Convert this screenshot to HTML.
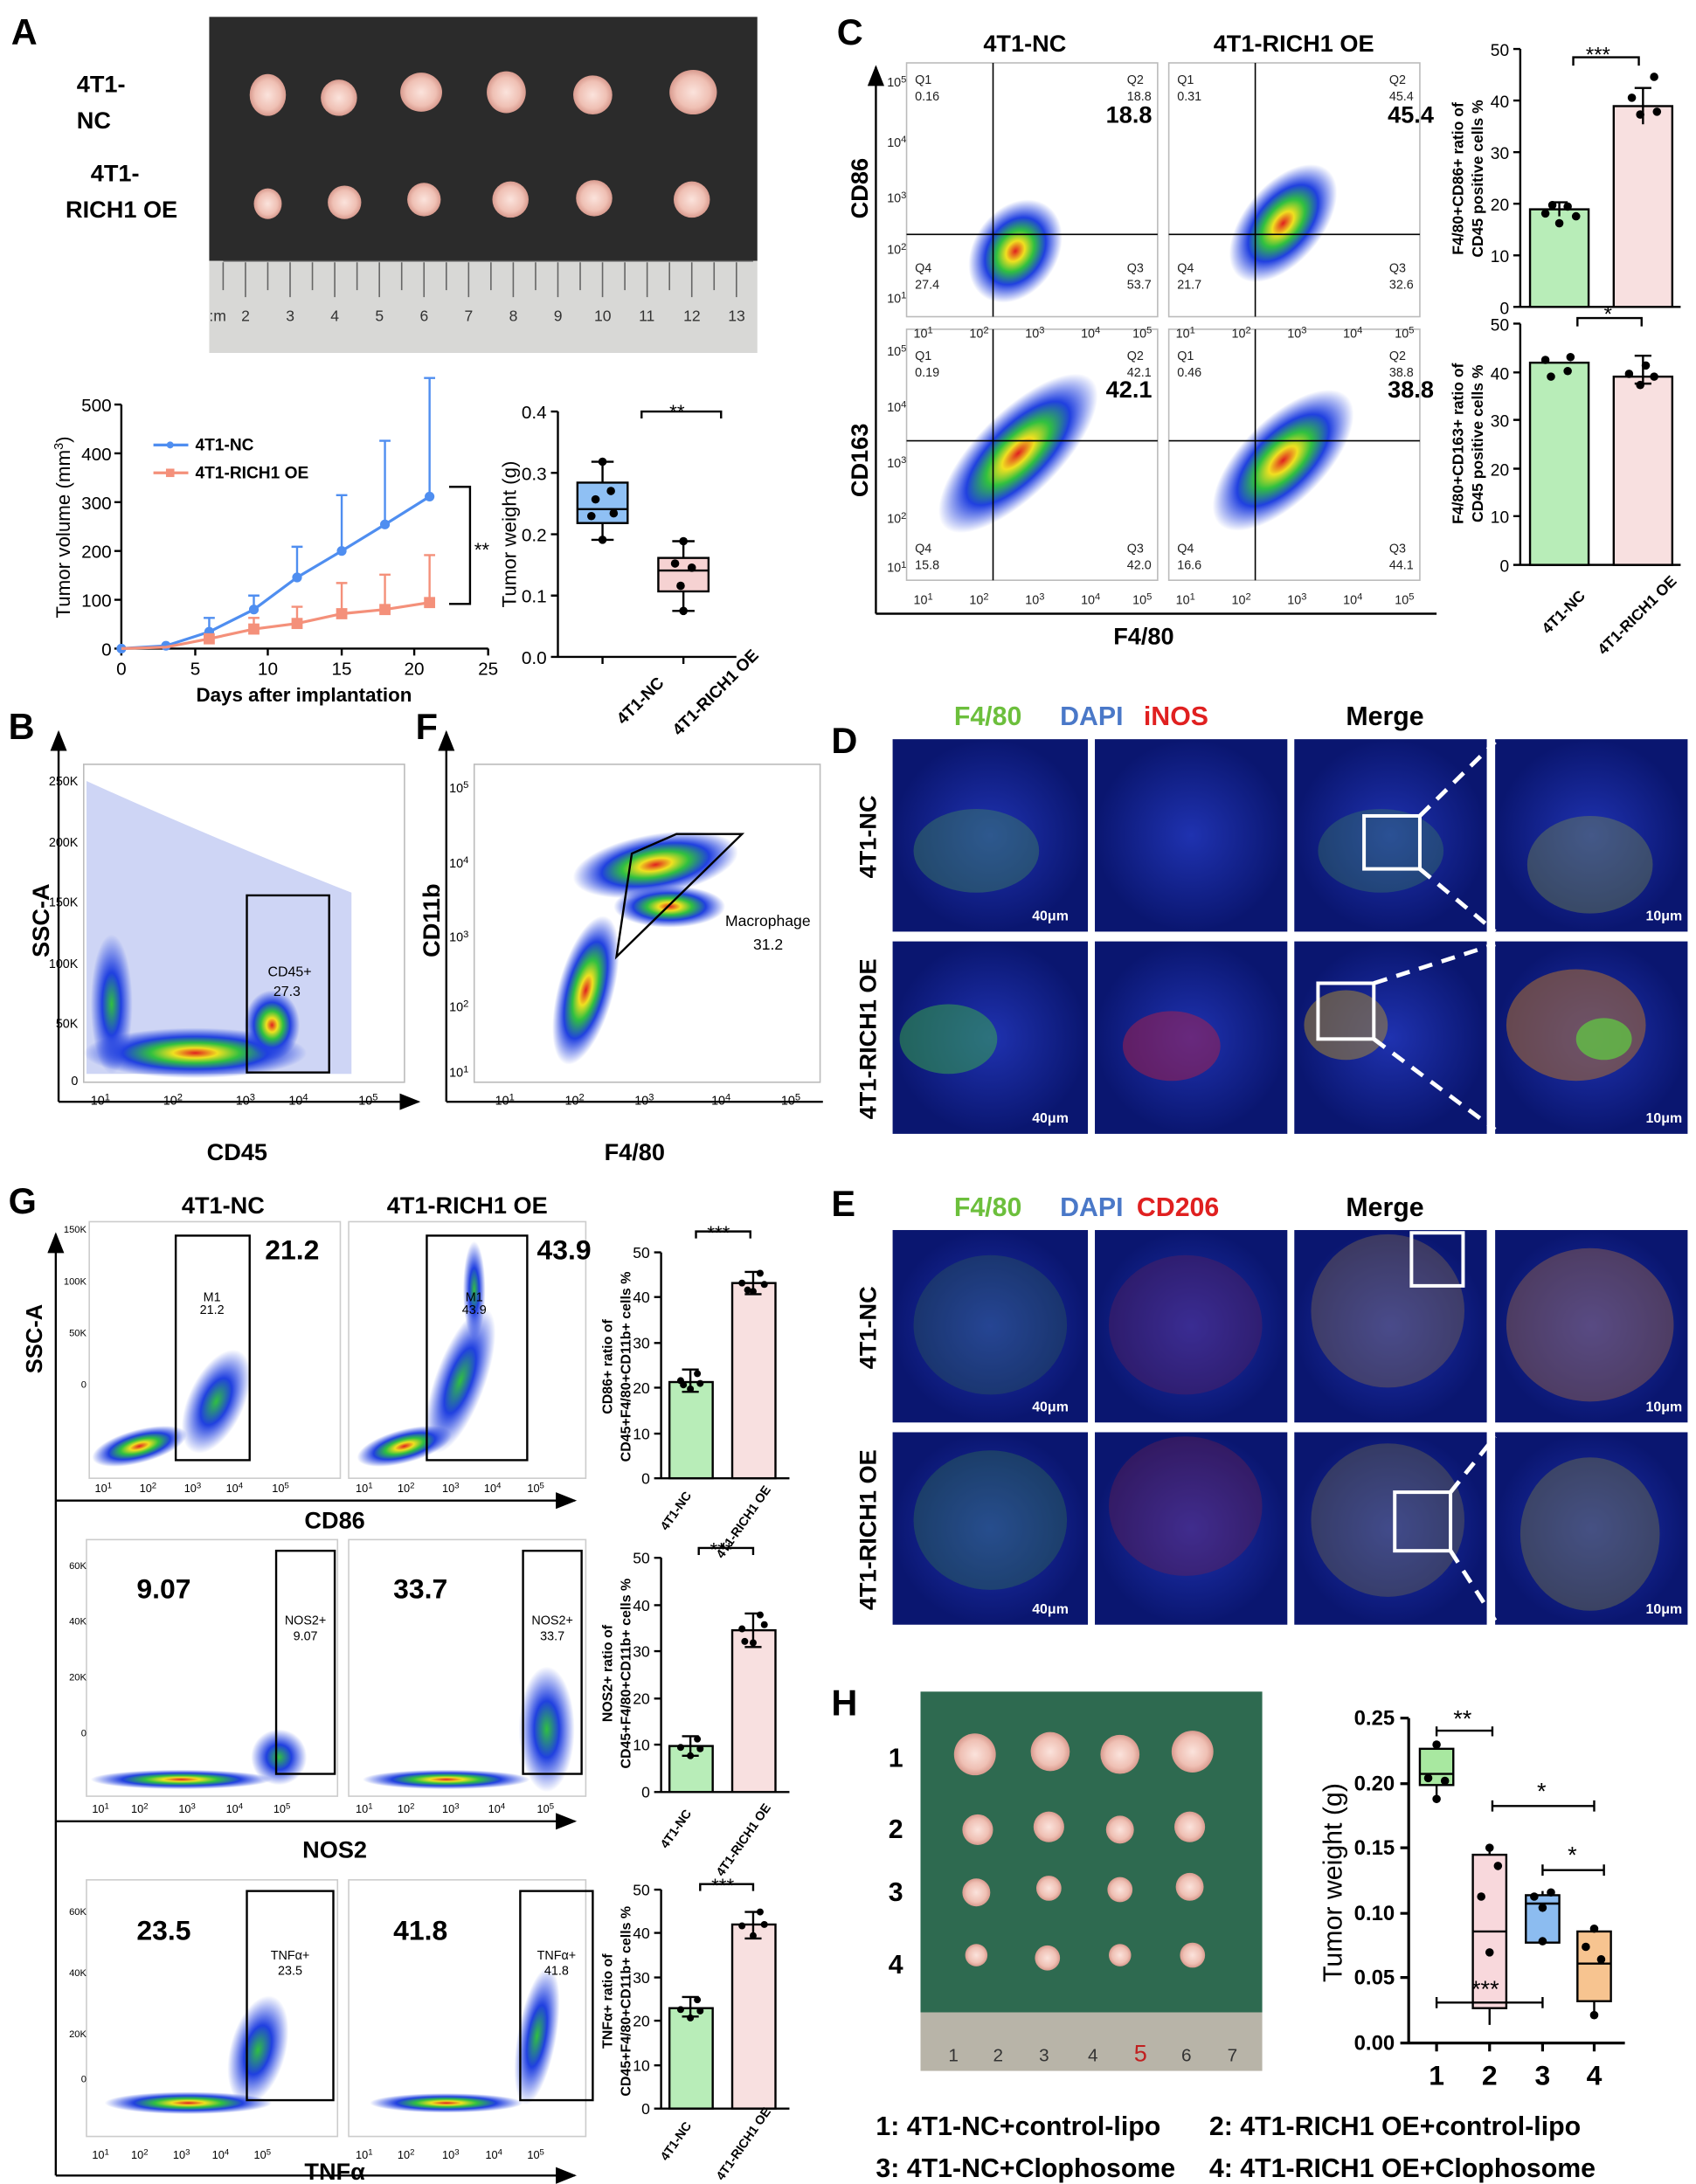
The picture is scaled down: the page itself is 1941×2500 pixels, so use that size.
<!DOCTYPE html>
<html><head><meta charset="utf-8"><style>
html,body{margin:0;padding:0;background:#fff}
svg{display:block}
text{font-family:"Liberation Sans",Arial,sans-serif}
.b{font-weight:bold}
</style></head><body>
<svg width="1941" height="2500" viewBox="0 0 1216 1566" xmlns="http://www.w3.org/2000/svg">
<defs>
<radialGradient id="blob"><stop offset="0" stop-color="#e02020"/><stop offset="0.2" stop-color="#f0e020"/><stop offset="0.4" stop-color="#30c040"/><stop offset="0.65" stop-color="#2040e0"/><stop offset="1" stop-color="#2040e0" stop-opacity="0"/></radialGradient>
<radialGradient id="blobb"><stop offset="0" stop-color="#30c040"/><stop offset="0.45" stop-color="#2040e0"/><stop offset="1" stop-color="#2040e0" stop-opacity="0"/></radialGradient>
<radialGradient id="tum"><stop offset="0" stop-color="#fbe3dc"/><stop offset="0.7" stop-color="#efc0b4"/><stop offset="1" stop-color="#d89a8e"/></radialGradient>
<radialGradient id="fl"><stop offset="0" stop-color="#1f32b0"/><stop offset="1" stop-color="#0a1670"/></radialGradient>
<marker id="ar" markerWidth="10" markerHeight="8" refX="9" refY="4" orient="auto"><path d="M0,0 L10,4 L0,8z" fill="#000"/></marker>
</defs>

<!-- ===== A ===== -->
<text x="8" y="32" font-size="26" class="b">A</text>
<rect x="150" y="12" width="393" height="175" fill="#2b2b2b"/>
<rect x="150" y="187" width="393" height="66" fill="#d8d8d6"/>
<line x1="160" y1="187" x2="540" y2="187" stroke="#555"/>
<g font-size="11" fill="#333">
<text x="150" y="230">:m</text><text x="173" y="230">2</text><text x="205" y="230">3</text><text x="237" y="230">4</text><text x="269" y="230">5</text><text x="301" y="230">6</text><text x="333" y="230">7</text><text x="365" y="230">8</text><text x="397" y="230">9</text><text x="426" y="230">10</text><text x="458" y="230">11</text><text x="490" y="230">12</text><text x="522" y="230">13</text>
</g>
<g stroke="#666">
<path d="M160,188v20M176,188v25M192,188v20M208,188v25M224,188v20M240,188v25M256,188v20M272,188v25M288,188v20M304,188v25M320,188v20M336,188v25M352,188v20M368,188v25M384,188v20M400,188v25M416,188v20M432,188v25M448,188v20M464,188v25M480,188v20M496,188v25M512,188v20M528,188v25"/>
</g>
<g fill="url(#tum)">
<ellipse cx="192" cy="68" rx="13" ry="15"/><ellipse cx="243" cy="70" rx="13" ry="13"/><ellipse cx="302" cy="66" rx="15" ry="14"/><ellipse cx="363" cy="66" rx="14" ry="15"/><ellipse cx="425" cy="68" rx="14" ry="14"/><ellipse cx="497" cy="66" rx="17" ry="16"/>
<ellipse cx="192" cy="146" rx="10" ry="11"/><ellipse cx="247" cy="145" rx="12" ry="12"/><ellipse cx="304" cy="143" rx="12" ry="12"/><ellipse cx="366" cy="143" rx="13" ry="13"/><ellipse cx="426" cy="142" rx="13" ry="13"/><ellipse cx="496" cy="143" rx="13" ry="13"/>
</g>
<text x="55" y="66" font-size="17" class="b">4T1-</text><text x="55" y="92" font-size="17" class="b">NC</text>
<text x="65" y="130" font-size="17" class="b">4T1-</text><text x="47" y="156" font-size="17" class="b">RICH1 OE</text>

<!-- volume chart -->
<g stroke="#000" stroke-width="1.5" fill="none">
<path d="M87,290V465H350"/>
<path d="M82,290h5M82,325h5M82,360h5M82,395h5M82,430h5M82,465h5M87,465v5M140,465v5M192,465v5M245,465v5M297,465v5M350,465v5"/>
</g>
<g font-size="13" text-anchor="end"><text x="80" y="295">500</text><text x="80" y="330">400</text><text x="80" y="365">300</text><text x="80" y="400">200</text><text x="80" y="435">100</text><text x="80" y="470">0</text></g>
<g font-size="13" text-anchor="middle"><text x="87" y="484">0</text><text x="140" y="484">5</text><text x="192" y="484">10</text><text x="245" y="484">15</text><text x="297" y="484">20</text><text x="350" y="484">25</text></g>
<text x="218" y="503" font-size="14" text-anchor="middle" class="b">Days after implantation</text>
<text transform="translate(50,378) rotate(-90)" font-size="14" text-anchor="middle">Tumor volume (mm<tspan font-size="9" dy="-5">3</tspan><tspan dy="5">)</tspan></text>
<g stroke="#4f8ef0" stroke-width="2" fill="#4f8ef0">
<polyline fill="none" points="87,465 119,463 150,453 182,437 213,414 245,395 276,376 308,356"/>
<path d="M150,453v-10M182,437v-10M213,414v-22M245,395v-40M276,376v-60M308,356v-85" stroke-width="1.5"/>
<path d="M146,443h8M178,427h8M209,392h8M241,355h8M272,316h8M304,271h8" stroke-width="1.5"/>
<circle cx="87" cy="465" r="2.5"/><circle cx="119" cy="463" r="2.5"/><circle cx="150" cy="453" r="2.5"/><circle cx="182" cy="437" r="2.5"/><circle cx="213" cy="414" r="2.5"/><circle cx="245" cy="395" r="2.5"/><circle cx="276" cy="376" r="2.5"/><circle cx="308" cy="356" r="2.5"/>
</g>
<g stroke="#f4907a" stroke-width="2" fill="#f4907a">
<polyline fill="none" points="87,465 119,464 150,458 182,451 213,447 245,440 276,437 308,432"/>
<path d="M182,451v-8M213,447v-12M245,440v-22M276,437v-25M308,432v-34" stroke-width="1.5"/>
<path d="M178,443h8M209,435h8M241,418h8M272,412h8M304,398h8" stroke-width="1.5"/>
<rect x="147" y="455" width="6" height="6"/><rect x="179" y="448" width="6" height="6"/><rect x="210" y="444" width="6" height="6"/><rect x="242" y="437" width="6" height="6"/><rect x="273" y="434" width="6" height="6"/><rect x="305" y="429" width="6" height="6"/>
</g>
<line x1="110" y1="319" x2="135" y2="319" stroke="#4f8ef0" stroke-width="2"/><circle cx="122" cy="319" r="2.5" fill="#4f8ef0"/>
<text x="140" y="323" font-size="12" class="b">4T1-NC</text>
<line x1="110" y1="339" x2="135" y2="339" stroke="#f4907a" stroke-width="2"/><rect x="119" y="336" width="6" height="6" fill="#f4907a"/>
<text x="140" y="343" font-size="12" class="b">4T1-RICH1 OE</text>
<path d="M322,349h15V433h-15" stroke="#000" stroke-width="1.5" fill="none"/>
<text x="340" y="399" font-size="14">**</text>

<!-- weight box -->
<g stroke="#000" stroke-width="1.5" fill="none"><path d="M400,295V471H528M395,295h5M395,339h5M395,383h5M395,427h5M395,471h5M432,471v5M490,471v5"/></g>
<g font-size="13" text-anchor="end"><text x="392" y="300">0.4</text><text x="392" y="344">0.3</text><text x="392" y="388">0.2</text><text x="392" y="432">0.1</text><text x="392" y="476">0.0</text></g>
<text transform="translate(370,383) rotate(-90)" font-size="14" text-anchor="middle">Tumor weight (g)</text>
<rect x="414" y="346" width="36" height="29" fill="#8fc0f4" stroke="#000" stroke-width="1.5"/>
<path d="M414,365h36M432,346v-15M432,375v12M424,331h16M424,387h16" stroke="#000" stroke-width="1.5"/>
<rect x="472" y="400" width="36" height="24" fill="#f6d2d2" stroke="#000" stroke-width="1.5"/>
<path d="M472,409h36M490,400v-12M490,424v14M482,388h16M482,438h16" stroke="#000" stroke-width="1.5"/>
<g fill="#000"><circle cx="427" cy="358" r="3"/><circle cx="438" cy="352" r="3"/><circle cx="432" cy="331" r="3"/><circle cx="424" cy="370" r="3"/><circle cx="440" cy="368" r="3"/><circle cx="432" cy="387" r="3"/>
<circle cx="484" cy="404" r="3"/><circle cx="496" cy="407" r="3"/><circle cx="490" cy="388" r="3"/><circle cx="488" cy="420" r="3"/><circle cx="490" cy="438" r="3"/></g>
<path d="M460,300v-5H517v5" stroke="#000" stroke-width="1.5" fill="none"/><text x="480" y="300" font-size="14">**</text>
<text transform="translate(447,520) rotate(-45)" font-size="12" class="b">4T1-NC</text>
<text transform="translate(487,528) rotate(-45)" font-size="12" class="b">4T1-RICH1 OE</text>

<!-- ===== C ===== -->
<text x="600" y="32" font-size="26" class="b">C</text>
<text x="705" y="37" font-size="17" class="b">4T1-NC</text>
<text x="870" y="37" font-size="17" class="b">4T1-RICH1 OE</text>
<line x1="628" y1="440" x2="628" y2="48" stroke="#000" stroke-width="1.5" marker-end="url(#ar)"/>
<line x1="628" y1="440" x2="1030" y2="440" stroke="#000" stroke-width="1.5"/>
<text transform="translate(622,135) rotate(-90)" font-size="17" class="b" text-anchor="middle">CD86</text>
<text transform="translate(622,330) rotate(-90)" font-size="17" class="b" text-anchor="middle">CD163</text>
<text x="820" y="462" font-size="17" class="b" text-anchor="middle">F4/80</text>
<g font-size="9" fill="#222">
<rect x="650" y="45" width="180" height="182" fill="#fff" stroke="#bbb"/>
<rect x="838" y="45" width="180" height="182" fill="#fff" stroke="#bbb"/>
<rect x="650" y="236" width="180" height="180" fill="#fff" stroke="#bbb"/>
<rect x="838" y="236" width="180" height="180" fill="#fff" stroke="#bbb"/>
<ellipse cx="728" cy="180" rx="30" ry="40" fill="url(#blob)" transform="rotate(35 728 180)"/>
<ellipse cx="920" cy="160" rx="28" ry="50" fill="url(#blob)" transform="rotate(40 920 160)"/>
<ellipse cx="730" cy="325" rx="30" ry="75" fill="url(#blob)" transform="rotate(45 730 325)"/>
<ellipse cx="920" cy="330" rx="30" ry="65" fill="url(#blob)" transform="rotate(45 920 330)"/>
<path d="M712,45v182M650,168h180M900,45v182M838,168h180M712,236v180M650,316h180M900,236v180M838,316h180" stroke="#000" stroke-width="1"/>
<text x="656" y="60">Q1</text><text x="656" y="72">0.16</text><text x="808" y="60">Q2</text><text x="808" y="72">18.8</text>
<text x="656" y="195">Q4</text><text x="656" y="207">27.4</text><text x="808" y="195">Q3</text><text x="808" y="207">53.7</text>
<text x="844" y="60">Q1</text><text x="844" y="72">0.31</text><text x="996" y="60">Q2</text><text x="996" y="72">45.4</text>
<text x="844" y="195">Q4</text><text x="844" y="207">21.7</text><text x="996" y="195">Q3</text><text x="996" y="207">32.6</text>
<text x="656" y="258">Q1</text><text x="656" y="270">0.19</text><text x="808" y="258">Q2</text><text x="808" y="270">42.1</text>
<text x="656" y="396">Q4</text><text x="656" y="408">15.8</text><text x="808" y="396">Q3</text><text x="808" y="408">42.0</text>
<text x="844" y="258">Q1</text><text x="844" y="270">0.46</text><text x="996" y="258">Q2</text><text x="996" y="270">38.8</text>
<text x="844" y="396">Q4</text><text x="844" y="408">16.6</text><text x="996" y="396">Q3</text><text x="996" y="408">44.1</text>
<text x="636" y="62">10<tspan dy="-3" font-size="7">5</tspan></text><text x="636" y="105">10<tspan dy="-3" font-size="7">4</tspan></text><text x="636" y="145">10<tspan dy="-3" font-size="7">3</tspan></text><text x="636" y="182">10<tspan dy="-3" font-size="7">2</tspan></text><text x="636" y="217">10<tspan dy="-3" font-size="7">1</tspan></text>
<text x="636" y="255">10<tspan dy="-3" font-size="7">5</tspan></text><text x="636" y="295">10<tspan dy="-3" font-size="7">4</tspan></text><text x="636" y="335">10<tspan dy="-3" font-size="7">3</tspan></text><text x="636" y="375">10<tspan dy="-3" font-size="7">2</tspan></text><text x="636" y="410">10<tspan dy="-3" font-size="7">1</tspan></text>
<text x="655" y="242">10<tspan dy="-3" font-size="7">1</tspan></text><text x="695" y="242">10<tspan dy="-3" font-size="7">2</tspan></text><text x="735" y="242">10<tspan dy="-3" font-size="7">3</tspan></text><text x="775" y="242">10<tspan dy="-3" font-size="7">4</tspan></text><text x="812" y="242">10<tspan dy="-3" font-size="7">5</tspan></text>
<text x="843" y="242">10<tspan dy="-3" font-size="7">1</tspan></text><text x="883" y="242">10<tspan dy="-3" font-size="7">2</tspan></text><text x="923" y="242">10<tspan dy="-3" font-size="7">3</tspan></text><text x="963" y="242">10<tspan dy="-3" font-size="7">4</tspan></text><text x="1000" y="242">10<tspan dy="-3" font-size="7">5</tspan></text>
<text x="655" y="433">10<tspan dy="-3" font-size="7">1</tspan></text><text x="695" y="433">10<tspan dy="-3" font-size="7">2</tspan></text><text x="735" y="433">10<tspan dy="-3" font-size="7">3</tspan></text><text x="775" y="433">10<tspan dy="-3" font-size="7">4</tspan></text><text x="812" y="433">10<tspan dy="-3" font-size="7">5</tspan></text>
<text x="843" y="433">10<tspan dy="-3" font-size="7">1</tspan></text><text x="883" y="433">10<tspan dy="-3" font-size="7">2</tspan></text><text x="923" y="433">10<tspan dy="-3" font-size="7">3</tspan></text><text x="963" y="433">10<tspan dy="-3" font-size="7">4</tspan></text><text x="1000" y="433">10<tspan dy="-3" font-size="7">5</tspan></text>
</g>
<g font-size="17" class="b" text-anchor="end"><text x="826" y="88">18.8</text><text x="1028" y="88">45.4</text><text x="826" y="285">42.1</text><text x="1028" y="285">38.8</text></g>

<!-- C bars -->
<g stroke="#000" stroke-width="1.5" fill="none"><path d="M1090,35V220H1205M1085,35h5M1085,72h5M1085,109h5M1085,146h5M1085,183h5M1085,220h5"/><path d="M1090,232V405H1205M1085,232h5M1085,267h5M1085,301h5M1085,336h5M1085,370h5M1085,405h5"/></g>
<g font-size="12" text-anchor="end"><text x="1082" y="40">50</text><text x="1082" y="77">40</text><text x="1082" y="114">30</text><text x="1082" y="151">20</text><text x="1082" y="188">10</text><text x="1082" y="225">0</text>
<text x="1082" y="237">50</text><text x="1082" y="272">40</text><text x="1082" y="306">30</text><text x="1082" y="341">20</text><text x="1082" y="375">10</text><text x="1082" y="410">0</text></g>
<rect x="1097" y="150" width="42" height="70" fill="#b8edb8" stroke="#000" stroke-width="1.5"/>
<rect x="1157" y="76" width="42" height="144" fill="#f8e0e0" stroke="#000" stroke-width="1.5"/>
<rect x="1097" y="260" width="42" height="145" fill="#b8edb8" stroke="#000" stroke-width="1.5"/>
<rect x="1157" y="270" width="42" height="135" fill="#f8e0e0" stroke="#000" stroke-width="1.5"/>
<path d="M1118,145v10M1112,145h12M1178,63v26M1172,63h12M1178,255v10M1172,255h12M1178,265v10M1172,275h12" stroke="#000" stroke-width="1.5"/>
<g fill="#000"><circle cx="1108" cy="153" r="3"/><circle cx="1124" cy="148" r="3"/><circle cx="1118" cy="160" r="3"/><circle cx="1130" cy="155" r="3"/><circle cx="1113" cy="147" r="3"/><circle cx="1170" cy="70" r="3"/><circle cx="1186" cy="55" r="3"/><circle cx="1176" cy="82" r="3"/><circle cx="1188" cy="80" r="3"/>
<circle cx="1108" cy="258" r="3"/><circle cx="1126" cy="256" r="3"/><circle cx="1112" cy="270" r="3"/><circle cx="1124" cy="266" r="3"/><circle cx="1168" cy="268" r="3"/><circle cx="1186" cy="270" r="3"/><circle cx="1176" cy="276" r="3"/><circle cx="1180" cy="262" r="3"/></g>
<path d="M1128,47v-6H1175v6M1131,234v-6H1177v6" stroke="#000" stroke-width="1.5" fill="none"/>
<text x="1137" y="44" font-size="15">***</text><text x="1150" y="230" font-size="15">*</text>
<text transform="translate(1049,128) rotate(-90)" font-size="11" class="b" text-anchor="middle">F4/80+CD86+ ratio of</text>
<text transform="translate(1063,128) rotate(-90)" font-size="11" class="b" text-anchor="middle">CD45 positive cells %</text>
<text transform="translate(1049,318) rotate(-90)" font-size="11" class="b" text-anchor="middle">F4/80+CD163+ ratio of</text>
<text transform="translate(1063,318) rotate(-90)" font-size="11" class="b" text-anchor="middle">CD45 positive cells %</text>
<text transform="translate(1110,455) rotate(-45)" font-size="11" class="b">4T1-NC</text>
<text transform="translate(1150,470) rotate(-45)" font-size="11" class="b">4T1-RICH1 OE</text>

<!-- ===== B ===== -->
<text x="6" y="530" font-size="26" class="b">B</text>
<line x1="42" y1="790" x2="42" y2="525" stroke="#000" stroke-width="1.5" marker-end="url(#ar)"/>
<line x1="42" y1="790" x2="300" y2="790" stroke="#000" stroke-width="1.5" marker-end="url(#ar)"/>
<text transform="translate(35,660) rotate(-90)" font-size="17" class="b" text-anchor="middle">SSC-A</text>
<text x="170" y="832" font-size="17" class="b" text-anchor="middle">CD45</text>
<rect x="60" y="548" width="230" height="228" fill="#fff" stroke="#bbb"/>
<path d="M62,770 L62,560 Q150,600 252,640 L252,770z" fill="#2040d0" opacity="0.22"/>
<ellipse cx="140" cy="755" rx="80" ry="18" fill="url(#blob)"/>
<ellipse cx="195" cy="735" rx="20" ry="25" fill="url(#blob)"/>
<ellipse cx="80" cy="720" rx="15" ry="50" fill="url(#blobb)"/>
<rect x="177" y="642" width="59" height="127" fill="none" stroke="#000" stroke-width="1.5"/>
<text x="192" y="700" font-size="10">CD45+</text><text x="196" y="714" font-size="10">27.3</text>
<g font-size="9" text-anchor="end"><text x="56" y="563">250K</text><text x="56" y="607">200K</text><text x="56" y="650">150K</text><text x="56" y="694">100K</text><text x="56" y="737">50K</text><text x="56" y="778">0</text></g>
<g font-size="9"><text x="65" y="792">10<tspan dy="-3" font-size="7">1</tspan></text><text x="117" y="792">10<tspan dy="-3" font-size="7">2</tspan></text><text x="169" y="792">10<tspan dy="-3" font-size="7">3</tspan></text><text x="207" y="792">10<tspan dy="-3" font-size="7">4</tspan></text><text x="257" y="792">10<tspan dy="-3" font-size="7">5</tspan></text></g>

<!-- ===== F ===== -->
<text x="298" y="530" font-size="26" class="b">F</text>
<line x1="320" y1="790" x2="320" y2="525" stroke="#000" stroke-width="1.5" marker-end="url(#ar)"/>
<line x1="320" y1="790" x2="590" y2="790" stroke="#000" stroke-width="1.5"/>
<text transform="translate(315,660) rotate(-90)" font-size="17" class="b" text-anchor="middle">CD11b</text>
<text x="455" y="832" font-size="17" class="b" text-anchor="middle">F4/80</text>
<rect x="340" y="548" width="248" height="228" fill="#fff" stroke="#bbb"/>
<ellipse cx="470" cy="620" rx="60" ry="22" fill="url(#blob)" transform="rotate(-10 470 620)"/>
<ellipse cx="480" cy="650" rx="40" ry="15" fill="url(#blob)"/>
<ellipse cx="420" cy="710" rx="20" ry="55" fill="url(#blob)" transform="rotate(15 420 710)"/>
<path d="M453,612L485,598H532L442,686z" fill="none" stroke="#000" stroke-width="1.5"/>
<text x="520" y="664" font-size="11">Macrophage</text><text x="540" y="681" font-size="11">31.2</text>
<g font-size="9" text-anchor="end"><text x="336" y="568">10<tspan dy="-3" font-size="7">5</tspan></text><text x="336" y="622">10<tspan dy="-3" font-size="7">4</tspan></text><text x="336" y="675">10<tspan dy="-3" font-size="7">3</tspan></text><text x="336" y="725">10<tspan dy="-3" font-size="7">2</tspan></text><text x="336" y="772">10<tspan dy="-3" font-size="7">1</tspan></text></g>
<g font-size="9"><text x="355" y="792">10<tspan dy="-3" font-size="7">1</tspan></text><text x="405" y="792">10<tspan dy="-3" font-size="7">2</tspan></text><text x="455" y="792">10<tspan dy="-3" font-size="7">3</tspan></text><text x="510" y="792">10<tspan dy="-3" font-size="7">4</tspan></text><text x="560" y="792">10<tspan dy="-3" font-size="7">5</tspan></text></g>

<!-- ===== D ===== -->
<text x="596" y="540" font-size="26" class="b">D</text>
<text x="684" y="520" font-size="19" class="b" fill="#6cbf3c">F4/80</text>
<text x="760" y="520" font-size="19" class="b" fill="#4a78c8">DAPI</text>
<text x="820" y="520" font-size="19" class="b" fill="#e02020">iNOS</text>
<text x="965" y="520" font-size="19" class="b">Merge</text>
<text transform="translate(628,600) rotate(-90)" font-size="17" class="b" text-anchor="middle">4T1-NC</text>
<text transform="translate(628,745) rotate(-90)" font-size="17" class="b" text-anchor="middle">4T1-RICH1 OE</text>
<g>
<rect x="640" y="530" width="140" height="138" fill="url(#fl)"/><rect x="785" y="530" width="138" height="138" fill="url(#fl)"/><rect x="928" y="530" width="138" height="138" fill="url(#fl)"/><rect x="1072" y="530" width="138" height="138" fill="url(#fl)"/>
<rect x="640" y="675" width="140" height="138" fill="url(#fl)"/><rect x="785" y="675" width="138" height="138" fill="url(#fl)"/><rect x="928" y="675" width="138" height="138" fill="url(#fl)"/><rect x="1072" y="675" width="138" height="138" fill="url(#fl)"/>
<ellipse cx="700" cy="610" rx="45" ry="30" fill="#4aa050" opacity="0.35"/>
<ellipse cx="990" cy="610" rx="45" ry="30" fill="#4aa050" opacity="0.28"/>
<ellipse cx="1140" cy="620" rx="45" ry="35" fill="#8aa040" opacity="0.35"/>
<ellipse cx="680" cy="745" rx="35" ry="25" fill="#3ec040" opacity="0.45"/>
<ellipse cx="840" cy="750" rx="35" ry="25" fill="#c02040" opacity="0.45"/>
<ellipse cx="965" cy="735" rx="30" ry="25" fill="#b09030" opacity="0.5"/>
<ellipse cx="1130" cy="735" rx="50" ry="40" fill="#b07030" opacity="0.55"/>
<ellipse cx="1150" cy="745" rx="20" ry="15" fill="#60d040" opacity="0.7"/>
<rect x="978" y="585" width="40" height="38" fill="none" stroke="#fff" stroke-width="2.5"/>
<rect x="945" y="705" width="40" height="40" fill="none" stroke="#fff" stroke-width="2.5"/>
<path d="M1018,585L1072,532M1018,623L1072,668M985,705L1072,677M985,745L1072,810" stroke="#fff" stroke-width="3" stroke-dasharray="10,7"/>
<g fill="#fff" font-size="10" class="b"><text x="740" y="660">40μm</text><text x="1180" y="660">10μm</text><text x="740" y="805">40μm</text><text x="1180" y="805">10μm</text></g>
</g>

<!-- ===== E ===== -->
<text x="596" y="872" font-size="26" class="b">E</text>
<text x="684" y="872" font-size="19" class="b" fill="#6cbf3c">F4/80</text>
<text x="760" y="872" font-size="19" class="b" fill="#4a78c8">DAPI</text>
<text x="815" y="872" font-size="19" class="b" fill="#e02020">CD206</text>
<text x="965" y="872" font-size="19" class="b">Merge</text>
<text transform="translate(628,952) rotate(-90)" font-size="17" class="b" text-anchor="middle">4T1-NC</text>
<text transform="translate(628,1097) rotate(-90)" font-size="17" class="b" text-anchor="middle">4T1-RICH1 OE</text>
<rect x="640" y="882" width="140" height="138" fill="url(#fl)"/><rect x="785" y="882" width="138" height="138" fill="url(#fl)"/><rect x="928" y="882" width="138" height="138" fill="url(#fl)"/><rect x="1072" y="882" width="138" height="138" fill="url(#fl)"/>
<rect x="640" y="1027" width="140" height="138" fill="url(#fl)"/><rect x="785" y="1027" width="138" height="138" fill="url(#fl)"/><rect x="928" y="1027" width="138" height="138" fill="url(#fl)"/><rect x="1072" y="1027" width="138" height="138" fill="url(#fl)"/>
<ellipse cx="710" cy="950" rx="55" ry="50" fill="#3a8040" opacity="0.25"/>
<ellipse cx="850" cy="950" rx="55" ry="50" fill="#7a2050" opacity="0.3"/>
<ellipse cx="995" cy="940" rx="55" ry="55" fill="#a08040" opacity="0.33"/>
<ellipse cx="1140" cy="950" rx="60" ry="55" fill="#b07040" opacity="0.4"/>
<ellipse cx="710" cy="1090" rx="55" ry="50" fill="#3a9040" opacity="0.3"/>
<ellipse cx="850" cy="1080" rx="55" ry="50" fill="#902040" opacity="0.3"/>
<ellipse cx="995" cy="1090" rx="55" ry="55" fill="#8a8040" opacity="0.33"/>
<ellipse cx="1140" cy="1100" rx="50" ry="55" fill="#808040" opacity="0.4"/>
<rect x="1012" y="884" width="37" height="38" fill="none" stroke="#fff" stroke-width="2.5"/>
<rect x="1000" y="1070" width="40" height="42" fill="none" stroke="#fff" stroke-width="2.5"/>
<path d="M1040,1070L1072,1030M1040,1112L1072,1162" stroke="#fff" stroke-width="3" stroke-dasharray="10,7"/>
<g fill="#fff" font-size="10" class="b"><text x="740" y="1012">40μm</text><text x="1180" y="1012">10μm</text><text x="740" y="1157">40μm</text><text x="1180" y="1157">10μm</text></g>

<!-- ===== G ===== -->
<text x="6" y="870" font-size="26" class="b">G</text>
<text x="160" y="870" font-size="17" class="b" text-anchor="middle">4T1-NC</text>
<text x="335" y="870" font-size="17" class="b" text-anchor="middle">4T1-RICH1 OE</text>
<line x1="40" y1="1560" x2="40" y2="885" stroke="#000" stroke-width="1.5" marker-end="url(#ar)"/>
<text transform="translate(30,960) rotate(-90)" font-size="16" class="b" text-anchor="middle">SSC-A</text>
<line x1="40" y1="1076" x2="412" y2="1076" stroke="#000" stroke-width="1.5" marker-end="url(#ar)"/>
<line x1="40" y1="1306" x2="412" y2="1306" stroke="#000" stroke-width="1.5" marker-end="url(#ar)"/>
<line x1="40" y1="1560" x2="412" y2="1560" stroke="#000" stroke-width="1.5" marker-end="url(#ar)"/>
<text x="240" y="1096" font-size="17" class="b" text-anchor="middle">CD86</text>
<text x="240" y="1332" font-size="17" class="b" text-anchor="middle">NOS2</text>
<text x="240" y="1563" font-size="17" class="b" text-anchor="middle">TNFα</text>
<g fill="#fff" stroke="#ccc">
<rect x="64" y="876" width="180" height="184"/><rect x="250" y="876" width="170" height="184"/>
<rect x="62" y="1104" width="180" height="184"/><rect x="250" y="1104" width="170" height="184"/>
<rect x="62" y="1348" width="180" height="184"/><rect x="250" y="1348" width="170" height="184"/>
</g>
<ellipse cx="100" cy="1037" rx="35" ry="12" fill="url(#blob)" transform="rotate(-15 100 1037)"/>
<ellipse cx="155" cy="1005" rx="20" ry="40" fill="url(#blobb)" transform="rotate(25 155 1005)"/>
<ellipse cx="290" cy="1037" rx="35" ry="12" fill="url(#blob)" transform="rotate(-15 290 1037)"/>
<ellipse cx="330" cy="990" rx="18" ry="55" fill="url(#blobb)" transform="rotate(20 330 990)"/>
<ellipse cx="340" cy="925" rx="8" ry="35" fill="url(#blobb)"/>
<ellipse cx="130" cy="1276" rx="65" ry="7" fill="url(#blob)"/>
<ellipse cx="200" cy="1260" rx="20" ry="20" fill="url(#blobb)"/>
<ellipse cx="320" cy="1276" rx="60" ry="7" fill="url(#blob)"/>
<ellipse cx="392" cy="1240" rx="20" ry="45" fill="url(#blobb)"/>
<ellipse cx="135" cy="1508" rx="60" ry="8" fill="url(#blob)"/>
<ellipse cx="185" cy="1470" rx="20" ry="40" fill="url(#blobb)" transform="rotate(15 185 1470)"/>
<ellipse cx="320" cy="1508" rx="55" ry="7" fill="url(#blob)"/>
<ellipse cx="385" cy="1460" rx="14" ry="50" fill="url(#blobb)" transform="rotate(10 385 1460)"/>
<g fill="none" stroke="#000" stroke-width="1.5">
<rect x="126" y="886" width="53" height="161"/><rect x="306" y="886" width="72" height="161"/>
<rect x="198" y="1112" width="42" height="160"/><rect x="375" y="1112" width="42" height="160"/>
<rect x="177" y="1356" width="62" height="150"/><rect x="373" y="1356" width="52" height="150"/>
</g>
<g font-size="20" class="b"><text x="190" y="903">21.2</text><text x="385" y="903">43.9</text><text x="98" y="1146">9.07</text><text x="282" y="1146">33.7</text><text x="98" y="1391">23.5</text><text x="282" y="1391">41.8</text></g>
<g font-size="9" text-anchor="middle"><text x="152" y="933">M1</text><text x="152" y="942">21.2</text><text x="340" y="933">M1</text><text x="340" y="942">43.9</text>
<text x="219" y="1165">NOS2+</text><text x="219" y="1176">9.07</text><text x="396" y="1165">NOS2+</text><text x="396" y="1176">33.7</text>
<text x="208" y="1405">TNFα+</text><text x="208" y="1416">23.5</text><text x="399" y="1405">TNFα+</text><text x="399" y="1416">41.8</text></g>
<g font-size="7" text-anchor="end"><text x="62" y="884">150K</text><text x="62" y="921">100K</text><text x="62" y="958">50K</text><text x="62" y="995">0</text>
<text x="62" y="1125">60K</text><text x="62" y="1165">40K</text><text x="62" y="1205">20K</text><text x="62" y="1245">0</text>
<text x="62" y="1373">60K</text><text x="62" y="1417">40K</text><text x="62" y="1461">20K</text><text x="62" y="1493">0</text></g>
<g font-size="8"><text x="68" y="1070">10<tspan dy="-3" font-size="6">1</tspan></text><text x="100" y="1070">10<tspan dy="-3" font-size="6">2</tspan></text><text x="132" y="1070">10<tspan dy="-3" font-size="6">3</tspan></text><text x="162" y="1070">10<tspan dy="-3" font-size="6">4</tspan></text><text x="195" y="1070">10<tspan dy="-3" font-size="6">5</tspan></text>
<text x="255" y="1070">10<tspan dy="-3" font-size="6">1</tspan></text><text x="285" y="1070">10<tspan dy="-3" font-size="6">2</tspan></text><text x="317" y="1070">10<tspan dy="-3" font-size="6">3</tspan></text><text x="347" y="1070">10<tspan dy="-3" font-size="6">4</tspan></text><text x="378" y="1070">10<tspan dy="-3" font-size="6">5</tspan></text>
<text x="66" y="1300">10<tspan dy="-3" font-size="6">1</tspan></text><text x="94" y="1300">10<tspan dy="-3" font-size="6">2</tspan></text><text x="128" y="1300">10<tspan dy="-3" font-size="6">3</tspan></text><text x="162" y="1300">10<tspan dy="-3" font-size="6">4</tspan></text><text x="196" y="1300">10<tspan dy="-3" font-size="6">5</tspan></text>
<text x="255" y="1300">10<tspan dy="-3" font-size="6">1</tspan></text><text x="285" y="1300">10<tspan dy="-3" font-size="6">2</tspan></text><text x="317" y="1300">10<tspan dy="-3" font-size="6">3</tspan></text><text x="350" y="1300">10<tspan dy="-3" font-size="6">4</tspan></text><text x="385" y="1300">10<tspan dy="-3" font-size="6">5</tspan></text>
<text x="66" y="1548">10<tspan dy="-3" font-size="6">1</tspan></text><text x="94" y="1548">10<tspan dy="-3" font-size="6">2</tspan></text><text x="124" y="1548">10<tspan dy="-3" font-size="6">3</tspan></text><text x="152" y="1548">10<tspan dy="-3" font-size="6">4</tspan></text><text x="182" y="1548">10<tspan dy="-3" font-size="6">5</tspan></text>
<text x="255" y="1548">10<tspan dy="-3" font-size="6">1</tspan></text><text x="285" y="1548">10<tspan dy="-3" font-size="6">2</tspan></text><text x="317" y="1548">10<tspan dy="-3" font-size="6">3</tspan></text><text x="348" y="1548">10<tspan dy="-3" font-size="6">4</tspan></text><text x="378" y="1548">10<tspan dy="-3" font-size="6">5</tspan></text></g>

<!-- G bars -->
<g stroke="#000" stroke-width="1.5" fill="none">
<path d="M474,898V1060H566M469,898h5M469,930h5M469,963h5M469,995h5M469,1028h5M469,1060h5"/>
<path d="M474,1117V1285H566M469,1117h5M469,1151h5M469,1184h5M469,1218h5M469,1251h5M469,1285h5"/>
<path d="M474,1355V1512H566M469,1355h5M469,1386h5M469,1418h5M469,1449h5M469,1481h5M469,1512h5"/>
</g>
<g font-size="11" text-anchor="end">
<text x="466" y="902">50</text><text x="466" y="934">40</text><text x="466" y="967">30</text><text x="466" y="999">20</text><text x="466" y="1032">10</text><text x="466" y="1064">0</text>
<text x="466" y="1121">50</text><text x="466" y="1155">40</text><text x="466" y="1188">30</text><text x="466" y="1222">20</text><text x="466" y="1255">10</text><text x="466" y="1289">0</text>
<text x="466" y="1359">50</text><text x="466" y="1390">40</text><text x="466" y="1422">30</text><text x="466" y="1453">20</text><text x="466" y="1485">10</text><text x="466" y="1516">0</text></g>
<rect x="480" y="991" width="31" height="69" fill="#b8edb8" stroke="#000" stroke-width="1.5"/>
<rect x="525" y="920" width="31" height="140" fill="#f8e0e0" stroke="#000" stroke-width="1.5"/>
<rect x="480" y="1252" width="31" height="33" fill="#b8edb8" stroke="#000" stroke-width="1.5"/>
<rect x="525" y="1169" width="31" height="116" fill="#f8e0e0" stroke="#000" stroke-width="1.5"/>
<rect x="480" y="1440" width="31" height="72" fill="#b8edb8" stroke="#000" stroke-width="1.5"/>
<rect x="525" y="1380" width="31" height="132" fill="#f8e0e0" stroke="#000" stroke-width="1.5"/>
<path d="M495,982v16M489,982h12M489,998h12M540,912v16M534,912h12M534,928h12M495,1245v14M489,1245h12M489,1259h12M540,1157v24M534,1157h12M534,1181h12M495,1432v14M489,1432h12M489,1446h12M540,1371v19M534,1371h12M534,1390h12" stroke="#000" stroke-width="1.5"/>
<g fill="#000"><circle cx="488" cy="990" r="2.5"/><circle cx="500" cy="985" r="2.5"/><circle cx="495" cy="996" r="2.5"/><circle cx="490" cy="993" r="2.5"/><circle cx="502" cy="992" r="2.5"/><circle cx="532" cy="920" r="2.5"/><circle cx="545" cy="913" r="2.5"/><circle cx="540" cy="926" r="2.5"/><circle cx="548" cy="921" r="2.5"/><circle cx="536" cy="925" r="2.5"/>
<circle cx="488" cy="1253" r="2.5"/><circle cx="500" cy="1247" r="2.5"/><circle cx="495" cy="1259" r="2.5"/><circle cx="502" cy="1254" r="2.5"/><circle cx="532" cy="1168" r="2.5"/><circle cx="545" cy="1158" r="2.5"/><circle cx="540" cy="1178" r="2.5"/><circle cx="548" cy="1165" r="2.5"/><circle cx="534" cy="1177" r="2.5"/>
<circle cx="488" cy="1441" r="2.5"/><circle cx="500" cy="1434" r="2.5"/><circle cx="495" cy="1447" r="2.5"/><circle cx="502" cy="1442" r="2.5"/><circle cx="532" cy="1381" r="2.5"/><circle cx="545" cy="1371" r="2.5"/><circle cx="540" cy="1388" r="2.5"/><circle cx="548" cy="1380" r="2.5"/></g>
<path d="M499,888v-5H538v5M501,1115v-5H540v5M502,1356v-5H540v5" stroke="#000" stroke-width="1.5" fill="none"/>
<g font-size="14"><text x="507" y="889">***</text><text x="509" y="1116">***</text><text x="510" y="1357">***</text></g>
<g font-size="10" class="b" text-anchor="middle">
<text transform="translate(439,980) rotate(-90)">CD86+ ratio of</text><text transform="translate(452,980) rotate(-90)">CD45+F4/80+CD11b+ cells %</text>
<text transform="translate(439,1200) rotate(-90)">NOS2+ ratio of</text><text transform="translate(452,1200) rotate(-90)">CD45+F4/80+CD11b+ cells %</text>
<text transform="translate(439,1435) rotate(-90)">TNFα+ ratio of</text><text transform="translate(452,1435) rotate(-90)">CD45+F4/80+CD11b+ cells %</text></g>
<g font-size="9" class="b">
<text transform="translate(478,1098) rotate(-55)">4T1-NC</text><text transform="translate(518,1118) rotate(-55)">4T1-RICH1 OE</text>
<text transform="translate(478,1326) rotate(-55)">4T1-NC</text><text transform="translate(518,1346) rotate(-55)">4T1-RICH1 OE</text>
<text transform="translate(478,1550) rotate(-55)">4T1-NC</text><text transform="translate(518,1564) rotate(-55)">4T1-RICH1 OE</text></g>

<!-- ===== H ===== -->
<text x="596" y="1230" font-size="26" class="b">H</text>
<rect x="660" y="1213" width="245" height="230" fill="#2e6a50"/>
<rect x="660" y="1443" width="245" height="42" fill="#b8b4a8"/>
<g font-size="13" fill="#333"><text x="680" y="1478">1</text><text x="712" y="1478">2</text><text x="745" y="1478">3</text><text x="780" y="1478">4</text><text x="813" y="1478" fill="#c02020" font-size="17">5</text><text x="847" y="1478">6</text><text x="880" y="1478">7</text></g>
<g fill="url(#tum)">
<circle cx="699" cy="1258" r="15"/><circle cx="753" cy="1256" r="14"/><circle cx="803" cy="1258" r="14"/><circle cx="855" cy="1256" r="15"/>
<circle cx="701" cy="1312" r="11"/><circle cx="752" cy="1310" r="11"/><circle cx="803" cy="1312" r="10"/><circle cx="853" cy="1310" r="11"/>
<circle cx="700" cy="1357" r="10"/><circle cx="752" cy="1354" r="9"/><circle cx="803" cy="1355" r="9"/><circle cx="853" cy="1353" r="10"/>
<circle cx="700" cy="1402" r="8"/><circle cx="751" cy="1404" r="9"/><circle cx="803" cy="1402" r="8"/><circle cx="855" cy="1402" r="9"/>
</g>
<g font-size="19" class="b"><text x="637" y="1267">1</text><text x="637" y="1318">2</text><text x="637" y="1363">3</text><text x="637" y="1415">4</text></g>
<g stroke="#000" stroke-width="2" fill="none"><path d="M1010,1232V1465H1165M1004,1232h6M1004,1279h6M1004,1325h6M1004,1372h6M1004,1418h6M1004,1465h6M1030,1465v6M1068,1465v6M1106,1465v6M1143,1465v6"/></g>
<g font-size="15" class="b" text-anchor="end"><text x="1000" y="1237">0.25</text><text x="1000" y="1284">0.20</text><text x="1000" y="1330">0.15</text><text x="1000" y="1377">0.10</text><text x="1000" y="1423">0.05</text><text x="1000" y="1470">0.00</text></g>
<g font-size="20" class="b" text-anchor="middle"><text x="1030" y="1495">1</text><text x="1068" y="1495">2</text><text x="1106" y="1495">3</text><text x="1143" y="1495">4</text></g>
<text transform="translate(962,1350) rotate(-90)" font-size="19" text-anchor="middle">Tumor weight (g)</text>
<g stroke="#000" stroke-width="1.5">
<rect x="1018" y="1254" width="24" height="26" fill="#a8e8a0"/><path d="M1018,1272h24M1030,1254v-3M1030,1280v12"/>
<rect x="1056" y="1330" width="24" height="110" fill="#f8d8dc"/><path d="M1056,1385h24M1068,1330v-6M1068,1440v12"/>
<rect x="1094" y="1359" width="24" height="34" fill="#8cbcf0"/><path d="M1094,1365h24M1106,1359v-3"/>
<rect x="1131" y="1385" width="24" height="50" fill="#f7c490"/><path d="M1131,1408h24M1143,1385v-3M1143,1435v12"/>
</g>
<g fill="#000"><circle cx="1030" cy="1251" r="3"/><circle cx="1024" cy="1275" r="3"/><circle cx="1036" cy="1277" r="3"/><circle cx="1030" cy="1290" r="3"/>
<circle cx="1068" cy="1325" r="3"/><circle cx="1074" cy="1338" r="3"/><circle cx="1062" cy="1360" r="3"/><circle cx="1068" cy="1400" r="3"/>
<circle cx="1100" cy="1360" r="3"/><circle cx="1112" cy="1357" r="3"/><circle cx="1106" cy="1368" r="3"/><circle cx="1106" cy="1392" r="3"/>
<circle cx="1143" cy="1383" r="3"/><circle cx="1137" cy="1396" r="3"/><circle cx="1148" cy="1405" r="3"/><circle cx="1143" cy="1445" r="3"/></g>
<g stroke="#000" stroke-width="1.5" fill="none"><path d="M1030,1245v-7M1030,1241H1070M1070,1238v7M1070,1295H1143M1070,1291v8M1143,1291v8M1106,1341H1150M1106,1337v8M1150,1337v8M1030,1436H1106M1030,1432v8M1106,1432v8"/></g>
<g font-size="17"><text x="1042" y="1238">**</text><text x="1102" y="1290">*</text><text x="1124" y="1336">*</text><text x="1055" y="1432">***</text></g>
<g font-size="19" class="b"><text x="628" y="1531">1: 4T1-NC+control-lipo</text><text x="867" y="1531">2: 4T1-RICH1 OE+control-lipo</text>
<text x="628" y="1561">3: 4T1-NC+Clophosome</text><text x="867" y="1561">4: 4T1-RICH1 OE+Clophosome</text></g>
</svg>
</body></html>
